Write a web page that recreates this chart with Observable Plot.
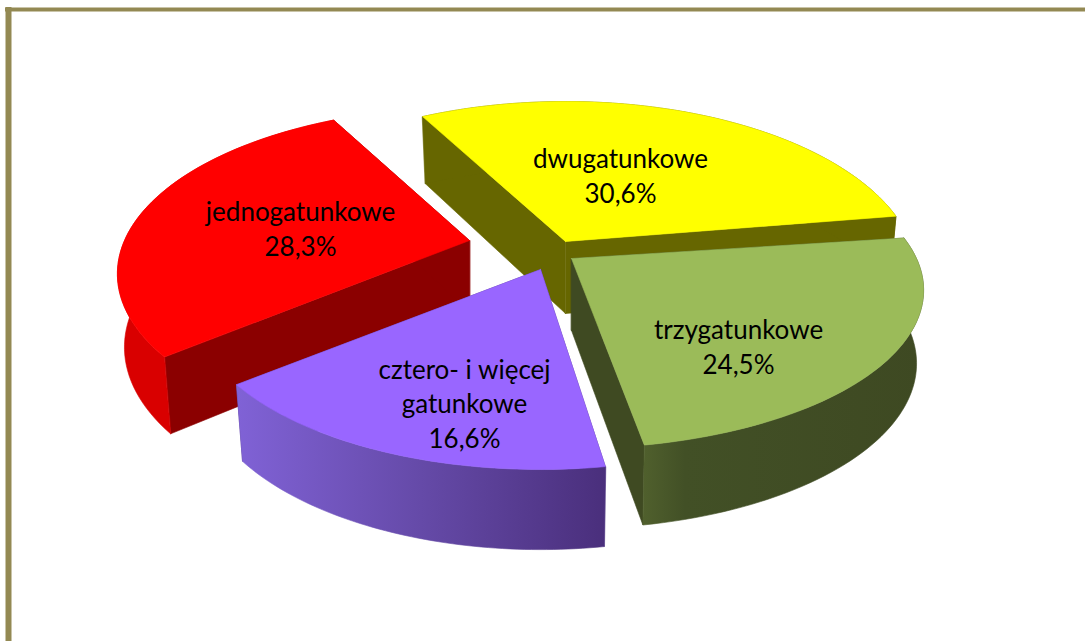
<!DOCTYPE html>
<html>
<head>
<meta charset="utf-8">
<script src="https://cdn.jsdelivr.net/npm/d3@7"></script>
<script src="https://cdn.jsdelivr.net/npm/@observablehq/plot@0.6"></script>
<style>html,body{margin:0;padding:0;background:#fff}svg{display:block}</style>
</head>
<body>
<div id="chart"></div>
<script>
// data
const labels = ["jednogatunkowe", "dwugatunkowe", "trzygatunkowe", "cztero- i więcej\ngatunkowe"];
const shares = [28.3, 30.6, 24.5, 16.6];
// layout of the exploded, tilted pie (separate from the data)
const startAngle = -129;
const angleShift = [-0.5, -2, -1, 0];
const apexX = [469, 565, 571, 540];
const apexY = [240, 241, 258, 269];
const radiusX = [345, 345, 345, 342];
const radiusY = [160, 168, 152, 160];
const perspective = 0.2;
const depth = 72;
const depthPerspective = 0.45;
const shrink = 0.98;
const labelX = [300, 620, 738, 464];
const labelY = [227, 174, 345, 402];
const topColors = ["#ff0000", "#ffff00", "#9bbb59", "#9966ff"];
const cutColors = ["#8b0000", "#666600", "#3f4a22", "#4e3585"];
const wallColors = ["#d90000", "#666600", "url(#wallGreen)", "url(#wallPurple)"];
const paintOrder = [1, 0, 2, 3];

const rad = Math.PI / 180;
function project(i, theta) {
  const u = Math.sin(theta * rad), v = -Math.cos(theta * rad);
  const s = 1 / (1 - perspective * v);
  return {x: apexX[i] + radiusX[i] * u * s, y: apexY[i] + radiusY[i] * v * s, s};
}
function lower(i, p) {
  return {x: apexX[i] + (p.x - apexX[i]) * shrink, y: p.y + depth * (1 + depthPerspective * (p.s - 1))};
}
let cumulative = startAngle;
const spans = shares.map((v, i) => {
  const a = cumulative; cumulative += v * 3.6;
  return [a + angleShift[i], cumulative + angleShift[i]];
});

function faces(i) {
  const [a, b] = spans[i];
  const rim = d3.range(0, 61).map(k => project(i, a + (b - a) * k / 60));
  const apex = {x: apexX[i], y: apexY[i], s: 1};
  const low = rim.map(p => lower(i, p));
  const apexLow = lower(i, apex);
  const outer = [...rim, ...low.slice().reverse()];
  const cutA = [apex, rim[0], low[0], apexLow];
  const cutB = [apex, rim[60], low[60], apexLow];
  const top = [apex, ...rim, apex];
  return [
    {pts: cutA, color: cutColors[i]},
    {pts: cutB, color: cutColors[i]},
    {pts: outer, color: wallColors[i]},
    {pts: top, color: topColors[i]}
  ];
}
const faceMarks = paintOrder.flatMap(i => faces(i).map(f =>
  Plot.line(f.pts, {x: "x", y: "y", fill: f.color, stroke: f.color, strokeWidth: 0.6, curve: "linear-closed"})
));

function gradients() {
  const defs = d3.create("svg:defs");
  const add = (id, stops) => {
    const g = defs.append("linearGradient").attr("id", id).attr("x1", 0).attr("x2", 1).attr("y1", 0).attr("y2", 0);
    stops.forEach(([o, c]) => g.append("stop").attr("offset", o).attr("stop-color", c));
  };
  add("wallGreen", [[0, "#50602d"], [0.15, "#425026"], [1, "#3e4922"]]);
  add("wallPurple", [[0, "#8062d6"], [0.5, "#654aa8"], [1, "#4a2f7c"]]);
  return defs.node();
}

const textRows = labels.map((l, i) => ({
  text: l + "\n" + shares[i].toFixed(1).replace(".", ",") + "%",
  x: labelX[i], y: labelY[i]
}));

const chart = Plot.plot({
  width: 1085, height: 641,
  margin: 0,
  x: {domain: [0, 1085], range: [0, 1085], axis: null},
  y: {domain: [0, 641], range: [0, 641], axis: null},
  style: {background: "#fff"},
  marks: [
    gradients,
    ...faceMarks,
    Plot.text(textRows, {x: "x", y: "y", text: "text", fontSize: 26, lineHeight: 1.32, fill: "#000",
      fontFamily: "Lato, 'Open Sans', sans-serif", textAnchor: "middle", lineAnchor: "middle"}),
    Plot.ruleX([8], {y1: 7, y2: 641, stroke: "#938953", strokeWidth: 6}),
    Plot.ruleY([9], {x1: 5, x2: 1085, stroke: "#938953", strokeWidth: 4})
  ]
});
document.getElementById("chart").append(chart);
</script>
</body>
</html>
